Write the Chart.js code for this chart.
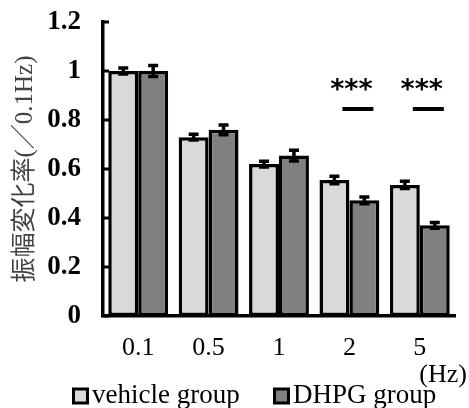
<!DOCTYPE html>
<html>
<head>
<meta charset="utf-8">
<script src="https://cdn.jsdelivr.net/npm/chart.js@4/dist/chart.umd.min.js"></script>
<style>
  html, body { margin: 0; padding: 0; background: #fff; }
  #wrap { width: 469px; height: 408px; }
</style>
</head>
<body>
<div id="wrap"><canvas id="chart" width="469" height="408"></canvas></div>
<script>
// dados
const frequencies = ['0.1', '0.5', '1', '2', '5'];
const vehicleMeans = [1.0, 0.73, 0.62, 0.555, 0.535];
const vehicleErrors = [0.012, 0.012, 0.012, 0.015, 0.015];
const dhpgMeans = [1.0, 0.76, 0.655, 0.472, 0.37];
const dhpgErrors = [0.022, 0.02, 0.022, 0.014, 0.012];
const yTicks = [0, 0.2, 0.4, 0.6, 0.8, 1, 1.2];
// significância: índice da categoria e texto
const sigIndex = [3, 4];
const sigText = ['***', '***'];
const sigLineValue = 0.845;
const sigStarValue = 0.935;

const serif = '"Liberation Serif", "Times New Roman", serif';

// Barras de erro, ticks internos, significância, unidade e legenda
const extrasPlugin = {
    id: 'extras',
    afterDatasetsDraw(chart) {
        const ctx = chart.ctx;
        const y = chart.scales.y;
        const x = chart.scales.x;
        const errs = [vehicleErrors, dhpgErrors];
        ctx.save();
        ctx.strokeStyle = '#000';
        ctx.lineWidth = 3.5;
        chart.data.datasets.forEach((ds, di) => {
            const meta = chart.getDatasetMeta(di);
            meta.data.forEach((bar, i) => {
                const v = ds.data[i];
                const e = errs[di][i];
                const yTop = y.getPixelForValue(v + e);
                const yBot = y.getPixelForValue(v - e);
                ctx.beginPath();
                ctx.moveTo(bar.x, yTop - 1);
                ctx.lineTo(bar.x, yBot + 1);
                ctx.moveTo(bar.x - 5, yTop);
                ctx.lineTo(bar.x + 5, yTop);
                ctx.moveTo(bar.x - 5, yBot);
                ctx.lineTo(bar.x + 5, yBot);
                ctx.stroke();
            });
        });

        // ticks internos do eixo y
        const left = chart.chartArea.left;
        ctx.lineWidth = 3;
        yTicks.forEach(t => {
            const py = y.getPixelForValue(t);
            ctx.beginPath();
            ctx.moveTo(left, py);
            ctx.lineTo(left + 6, py);
            ctx.stroke();
        });

        // marcas de significância
        ctx.lineWidth = 4;
        ctx.fillStyle = '#000';
        ctx.font = 'bold 27px "DejaVu Sans", sans-serif';
        ctx.textAlign = 'center';
        ctx.textBaseline = 'middle';
        sigIndex.forEach((ci, k) => {
            const cx = x.getPixelForValue(ci);
            const ly = y.getPixelForValue(sigLineValue);
            ctx.beginPath();
            ctx.moveTo(cx - 7, ly);
            ctx.lineTo(cx + 24, ly);
            ctx.stroke();
            ctx.fillText(sigText[k], cx + 2, y.getPixelForValue(sigStarValue) + 4);
        });

        // unidade do eixo x
        ctx.font = '26px ' + serif;
        ctx.textAlign = 'right';
        ctx.fillText('(Hz)', 467, 375);

        // legenda
        const legendX = [72, 273];
        const legendY = 396;
        ctx.font = '27px ' + serif;
        ctx.textAlign = 'left';
        ctx.lineWidth = 3;
        chart.data.datasets.forEach((ds, di) => {
            const lx = legendX[di];
            ctx.fillStyle = ds.backgroundColor;
            ctx.fillRect(lx + 1.5, legendY - 7, 14, 14);
            ctx.strokeRect(lx + 1.5, legendY - 7, 14, 14);
            ctx.fillStyle = '#000';
            ctx.fillText(ds.label, lx + 20, legendY);
        });
        ctx.restore();
    }
};

const chart = new Chart(document.getElementById('chart'), {
    type: 'bar',
    data: {
        labels: frequencies,
        datasets: [{
            label: 'vehicle group',
            data: vehicleMeans,
            backgroundColor: '#d9d9d9',
            borderColor: '#000',
            borderWidth: 3.5,
            borderSkipped: false
        }, {
            label: 'DHPG group',
            data: dhpgMeans,
            backgroundColor: '#808080',
            borderColor: '#000',
            borderWidth: 3.5,
            borderSkipped: false
        }]
    },
    options: {
        responsive: false,
        animation: false,
        devicePixelRatio: 1,
        layout: { padding: { top: 22, right: 14, left: 0, bottom: 28 } },
        datasets: {
            bar: { categoryPercentage: 0.85, barPercentage: 1.0 }
        },
        plugins: {
            tooltip: { enabled: false },
            legend: { display: false }
        },
        scales: {
            x: {
                afterFit(scale) {
                    scale.height = 64;
                    scale.paddingLeft = 0;
                    scale.paddingRight = 0;
                },
                grid: { display: false, drawTicks: false },
                border: { color: '#000', width: 3.5 },
                ticks: {
                    color: '#000',
                    font: { family: serif, size: 26 },
                    padding: 17
                }
            },
            y: {
                min: 0,
                max: 1.2,
                afterFit(scale) {
                    scale.width = 103;
                    scale.paddingTop = 0;
                    scale.paddingBottom = 0;
                },
                afterBuildTicks(scale) {
                    scale.ticks = yTicks.map(v => ({ value: v }));
                },
                grid: { display: false, drawTicks: false },
                border: { color: '#000', width: 3.5 },
                ticks: {
                    color: '#000',
                    font: { family: serif, size: 27, weight: 'bold' },
                    padding: 22,
                    callback: v => String(v)
                },
                title: {
                    display: true,
                    text: '振幅変化率(／0.1Hz)',
                    color: '#444',
                    font: { family: '"Liberation Serif", "Noto Sans CJK JP", serif', size: 25 },
                    padding: { top: 10, bottom: 4 }
                }
            }
        }
    },
    plugins: [extrasPlugin]
});
</script>
</body>
</html>
